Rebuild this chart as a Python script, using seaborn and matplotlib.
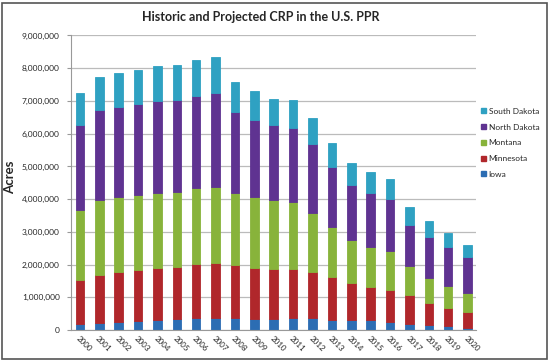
"""Stacked bar chart of historic and projected CRP acres in the U.S. PPR."""
import matplotlib
matplotlib.use("Agg")
import matplotlib.pyplot as plt
import matplotlib.patches as mpatches
from matplotlib.ticker import FuncFormatter, MultipleLocator
import numpy as np
import seaborn as sns

# Years on the x axis.
years = [str(y) for y in range(2000, 2021)]

# Acres enrolled per state (bottom to top of each stack).
iowa = [180000, 220000, 250000, 280000, 310000, 330000, 360000, 360000,
        360000, 330000, 330000, 360000, 360000, 310000, 310000, 310000,
        250000, 200000, 170000, 130000, 60000]
minnesota = [1350000, 1460000, 1530000, 1570000, 1600000, 1600000, 1650000,
             1680000, 1620000, 1570000, 1530000, 1500000, 1420000, 1320000,
             1130000, 1010000, 970000, 870000, 660000, 560000, 500000]
montana = [2150000, 2290000, 2290000, 2270000, 2290000, 2290000, 2340000,
           2340000, 2220000, 2170000, 2130000, 2060000, 1810000, 1520000,
           1310000, 1220000, 1190000, 880000, 750000, 670000, 560000]
north_dakota = [2600000, 2750000, 2750000, 2780000, 2800000, 2800000,
                2800000, 2850000, 2470000, 2360000, 2270000, 2260000,
                2090000, 1840000, 1680000, 1650000, 1590000, 1260000,
                1250000, 1170000, 1100000]
south_dakota = [970000, 1020000, 1040000, 1040000, 1070000, 1070000,
                1090000, 1120000, 910000, 880000, 810000, 840000, 800000,
                740000, 660000, 640000, 610000, 540000, 510000, 450000,
                370000]

states = ["Iowa", "Minnesota", "Montana", "North Dakota", "South Dakota"]
series = [iowa, minnesota, montana, north_dakota, south_dakota]
colors = ["#2C6DB3", "#B0272B", "#88B33B", "#5F3391", "#2FA1C2"]

sns.set_style("white")
plt.rcParams["font.family"] = ["Lato", "DejaVu Sans"]

fig = plt.figure(figsize=(5.5, 3.62), dpi=100)
ax = fig.add_axes([0.129, 0.088, 0.736, 0.814])

# Stack the bars one state at a time.
bottom = np.zeros(len(years))
for state, values, color in zip(states, series, colors):
    sns.barplot(
        x=years,
        y=values,
        bottom=bottom,
        color=color,
        width=0.44,
        errorbar=None,
        saturation=1,
        edgecolor=color,
        linewidth=0.6,
        ax=ax,
    )
    bottom += np.array(values)

# Axis limits and ticks.
ax.set_ylim(0, 9000000)
ax.set_xlim(-0.46, 20.42)
ax.yaxis.set_major_locator(MultipleLocator(1000000))
ax.yaxis.set_major_formatter(FuncFormatter(lambda v, p: f"{int(v):,}"))
ax.tick_params(axis="y", labelsize=6, length=3, color="#999999", pad=5)
ax.tick_params(axis="x", labelsize=5.8, length=0, pad=3)
for lbl in ax.get_xticklabels():
    lbl.set_rotation(-45)
    lbl.set_ha("left")
    lbl.set_va("top")
    lbl.set_rotation_mode("anchor")
ax.yaxis.set_ticks_position("left")

# Gridlines and spines.
ax.set_axisbelow(True)
ax.yaxis.grid(True, color="#BBBBBB", linewidth=0.9)
for side in ["top", "right"]:
    ax.spines[side].set_visible(False)
ax.spines["left"].set_color("#999999")
ax.spines["bottom"].set_color("#999999")

# Labels and title.
ax.set_xlabel("")
ax.set_ylabel("Acres", fontsize=9.5, fontweight="bold")
ax.yaxis.set_label_coords(-0.135, 0.52)
fig.text(0.475, 0.952, "Historic and Projected CRP in the U.S. PPR",
         ha="center", va="center", fontsize=9, fontweight="bold")

# Legend with South Dakota on top.
handles = [mpatches.Patch(color=c, label=s) for s, c in zip(states, colors)]
ax.legend(
    handles=handles[::-1],
    loc="upper left",
    bbox_to_anchor=(0.995, 0.78),
    frameon=False,
    fontsize=6,
    handlelength=0.55,
    handleheight=0.55,
    handletextpad=0.35,
    labelspacing=1.05,
)

# Outer frame round the picture.
fig.patches.append(
    mpatches.Rectangle((0.004, 0.008), 0.99, 0.985, transform=fig.transFigure,
                       fill=False, edgecolor="#555555", linewidth=1.2)
)

fig.savefig("out.png", dpi=100)
